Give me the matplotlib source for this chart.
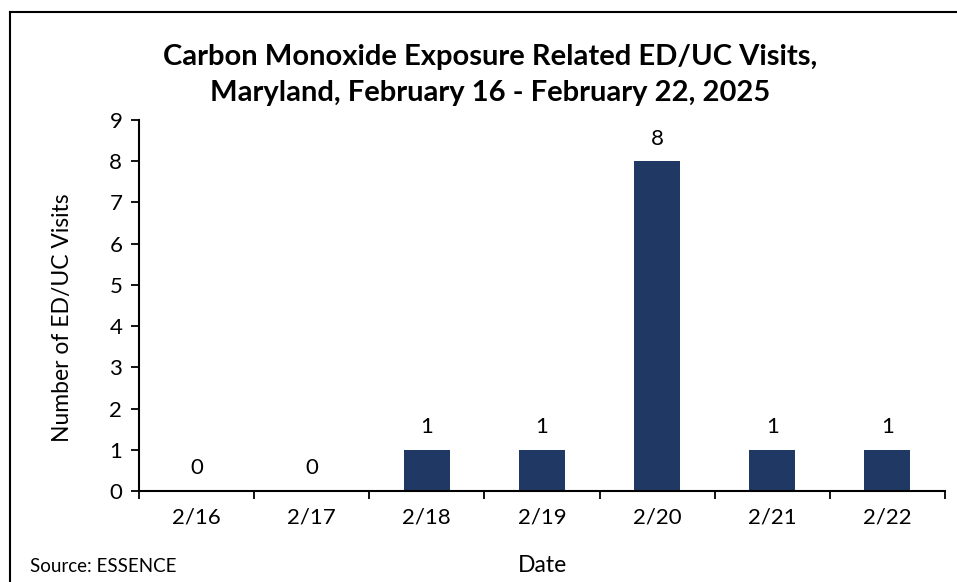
import matplotlib
matplotlib.use('Agg')
import matplotlib.pyplot as plt
from matplotlib.lines import Line2D

dates = ['2/16', '2/17', '2/18', '2/19', '2/20', '2/21', '2/22']
visits = [0, 0, 1, 1, 8, 1, 1]

plt.rcParams['font.family'] = ['Lato', 'DejaVu Sans']

fig = plt.figure(figsize=(9.57, 5.82), dpi=100)
W, H = 957, 582
ax = fig.add_axes([139 / W, 1 - 491 / H, (945 - 139) / W, (491 - 120) / H])

x = list(range(len(dates)))
bars = ax.bar(x, visits, width=0.4, color='#203864')
for xi, v in zip(x, visits):
    ax.annotate(str(v), (xi, v), xytext=(0, 9), textcoords='offset points',
                ha='center', va='bottom', fontsize=16)

ax.set_xlim(-0.5, len(dates) - 0.5)
ax.set_ylim(0, 9)
ax.set_yticks(range(0, 10))
ax.set_xticks(x)
ax.set_xticklabels(dates)
ax.set_xticks([i - 0.5 for i in range(len(dates) + 1)], minor=True)
ax.tick_params(axis='x', which='major', length=0, pad=12, labelsize=16)
ax.tick_params(axis='x', which='minor', length=6, width=1.3, direction='out')
ax.tick_params(axis='y', length=6, width=1.3, direction='out', pad=6, labelsize=16)
for s in ['top', 'right']:
    ax.spines[s].set_visible(False)
for s in ['left', 'bottom']:
    ax.spines[s].set_linewidth(1.5)

ax.set_ylabel('Number of ED/UC Visits', fontsize=16.5, va='center')
ax.yaxis.set_label_coords(-0.0955, 0.466)
ax.set_xlabel('Date', fontsize=16.5, labelpad=20)

fig.text(490 / W, 1 - 75 / H,
         'Carbon Monoxide Exposure Related ED/UC Visits,\nMaryland, February 16 - February 22, 2025',
         ha='center', va='center', fontsize=21, fontweight='bold', linespacing=1.5)
fig.text(30 / W, 1 - 566 / H, 'Source: ESSENCE', ha='left', va='center', fontsize=13.5)

# frame lines
fig.add_artist(Line2D([10 / W, 10 / W], [0, 1 - 12 / H], color='black', lw=1.5, transform=fig.transFigure))
fig.add_artist(Line2D([10 / W, 1], [1 - 12 / H, 1 - 12 / H], color='black', lw=1.5, transform=fig.transFigure))

fig.savefig('out.png', dpi=100)
